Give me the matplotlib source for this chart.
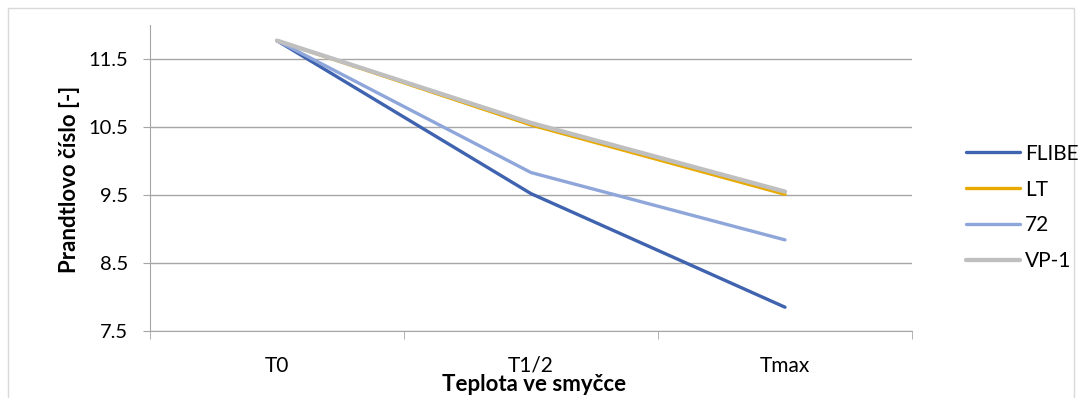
import matplotlib
matplotlib.use("Agg")
import matplotlib.pyplot as plt
from matplotlib.patches import Rectangle

plt.rcParams['font.family'] = ['Lato', 'DejaVu Sans']

categories = ['T0', 'T1/2', 'Tmax']
series = ['FLIBE', 'LT', '72', 'VP-1']
flibe = [11.77, 9.52, 7.85]
lt = [11.77, 10.53, 9.51]
s72 = [11.77, 9.83, 8.84]
vp1 = [11.77, 10.56, 9.55]
values = [flibe, lt, s72, vp1]
colors = ['#3F63AE', '#E8A900', '#8EA6DA', '#BFBFBF']
widths = [2.4, 2.4, 2.4, 3.1]
yticks = [7.5, 8.5, 9.5, 10.5, 11.5]

W, H = 1081, 398
fig = plt.figure(figsize=(W / 100, H / 100), dpi=100)
fig.patches.append(Rectangle((8 / W, -0.01), 1066 / W, 1 - 8 / H + 0.01,
                             transform=fig.transFigure, fill=False,
                             edgecolor='#D9D9D9', lw=1))
ax = fig.add_axes([150 / W, (H - 331) / H, (912 - 150) / W, (331 - 25) / H])

x = range(len(categories))
for name, vals, c, w in zip(series, values, colors, widths):
    ax.plot(x, vals, color=c, lw=w, label=name, solid_capstyle='round')

ax.set_xlim(-0.5, 2.5)
ax.set_ylim(7.5, 12.0)
ax.set_yticks(yticks)
ax.set_yticklabels([str(v) for v in yticks])
ax.set_xticks(list(x))
ax.set_xticklabels(categories)
ax.set_xticks([-0.5, 0.5, 1.5, 2.5], minor=True)
ax.tick_params(axis='x', which='major', length=0, pad=18, labelsize=15)
ax.tick_params(axis='x', which='minor', length=6, color='#A6A6A6', direction='out')
ax.tick_params(axis='y', length=5, color='#A6A6A6', labelsize=14.5, pad=11)
ax.grid(axis='y', color='#A6A6A6', lw=1)
ax.set_axisbelow(True)
for s in ['top', 'right']:
    ax.spines[s].set_visible(False)
ax.spines['left'].set_color('#A6A6A6')
ax.spines['bottom'].set_color('#A6A6A6')

# axis titles placed like in the original (close to the tick labels)
fig.text(70 / W, 1 - 179 / H, 'Prandtlovo číslo [-]', rotation=90, fontsize=16,
         fontweight='bold', ha='center', va='center')
fig.text(534 / W, 1 - 391 / H, 'Teplota ve smyčce', fontsize=16,
         fontweight='bold', ha='center', va='baseline')

fig.legend(loc='upper left', bbox_to_anchor=(947 / W, 1 - 125 / H), frameon=False,
           fontsize=15, handlelength=2.6, labelspacing=0.76, handletextpad=0.25)

fig.savefig('out.png', dpi=100)
